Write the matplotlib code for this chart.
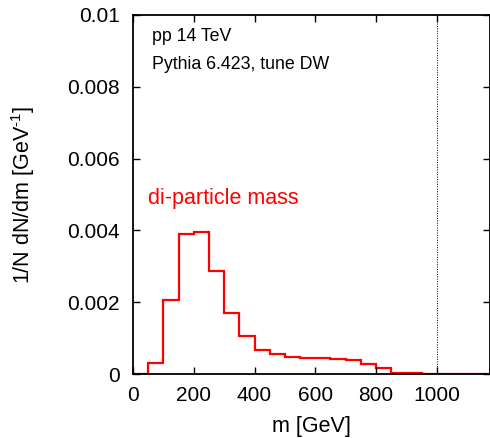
import numpy as np
import matplotlib
matplotlib.use("Agg")
import matplotlib.pyplot as plt
from matplotlib.ticker import FuncFormatter

plt.rcParams['font.family'] = ['Liberation Sans', 'DejaVu Sans']
plt.rcParams['mathtext.fontset'] = 'custom'
plt.rcParams['mathtext.rm'] = 'Liberation Sans'
plt.rcParams['mathtext.it'] = 'Liberation Sans:italic'

# di-particle mass histogram, 50 GeV bins
bin_edges = np.arange(0, 1201, 50)
dndm = [0.0, 0.00030, 0.00207, 0.00390, 0.00396, 0.00288, 0.00170, 0.00106,
        0.00068, 0.00055, 0.00048, 0.00044, 0.00046, 0.00043, 0.00039, 0.00029,
        0.00016, 0.00004, 0.00002, 0.00001, 0.0, 0.0, 0.0, 0.0]
xticks = [0, 200, 400, 600, 800, 1000]
yticks = [0, 0.002, 0.004, 0.006, 0.008, 0.01]
cut_mass = 1000

fig = plt.figure(figsize=(4.9, 4.38), dpi=100)
ax = fig.add_axes([0.2714, 0.146, 0.7286, 0.8198])

ax.stairs(dndm, bin_edges, color='#ff0000', linewidth=1.6)
ax.axvline(cut_mass, color='black', linestyle=(0, (1, 1.5)), linewidth=0.7)

ax.set_xlim(0, 1175)
ax.set_ylim(0, 0.01)
ax.set_xticks(xticks)
ax.set_yticks(yticks)
ax.yaxis.set_major_formatter(FuncFormatter(lambda v, p: '%g' % v))
ax.tick_params(direction='in', top=True, right=True, length=5, width=1,
               labelsize=15)
ax.tick_params(axis='x', pad=8.5)
ax.tick_params(axis='y', pad=9.5)
for s in ax.spines.values():
    s.set_linewidth(1.3)

ax.set_xlabel('m [GeV]', fontsize=15.5)
ax.xaxis.set_label_coords(0.5, -0.117)
ax.set_ylabel(r'1/N dN/dm [GeV$^{\text{-}1}$]', fontsize=15.5)
ax.yaxis.set_label_coords(-0.268, 0.5)

ax.text(0.054, 0.94, 'pp 14 TeV', transform=ax.transAxes, fontsize=12.8,
        va='center')
ax.text(0.054, 0.862, 'Pythia 6.423, tune DW', transform=ax.transAxes,
        fontsize=12.8, va='center')
ax.text(0.042, 0.49, 'di-particle mass', transform=ax.transAxes,
        fontsize=15.5, color='#ff0000', va='center')

fig.savefig('out.png', dpi=100)
